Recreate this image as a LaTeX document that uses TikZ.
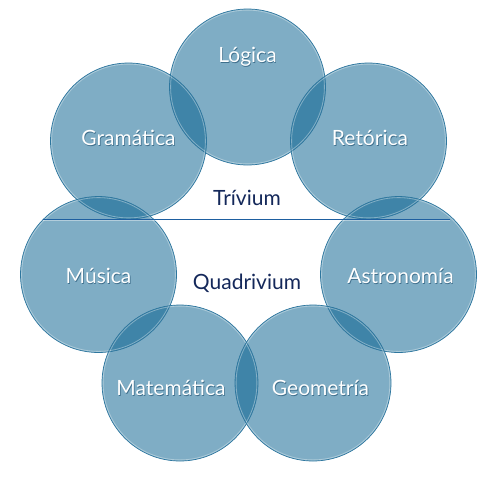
\documentclass[tikz,border=0pt]{standalone}
\usepackage{fontspec}
\setmainfont{Lato}
\definecolor{circfill}{RGB}{0,92,139}
\definecolor{circedge}{RGB}{45,118,158}
\definecolor{navy}{RGB}{20,40,90}
\definecolor{linecol}{RGB}{30,95,160}
\definecolor{shadowc}{RGB}{10,60,95}
\begin{document}
\begin{tikzpicture}[x=1pt,y=-1pt,
  circ/.style={circle,minimum size=156pt,inner sep=0pt,fill=circfill,fill opacity=0.5,draw=none},
  circedgestyle/.style={circle,minimum size=156pt,inner sep=0pt,draw=circedge,line width=0.7pt},
  circhl/.style={circle,minimum size=153.8pt,inner sep=0pt,draw=white,draw opacity=0.35,line width=0.8pt},
  lbl/.style={text=white,font=\fontsize{21}{24}\selectfont,inner sep=0pt},
  lblsh/.style={text=shadowc,text opacity=0.55,font=\fontsize{21}{24}\selectfont,inner sep=0pt},
  grp/.style={text=navy,font=\fontsize{21}{24}\selectfont,inner sep=0pt}]
\useasboundingbox (0,0) rectangle (495,480);
% circles
\foreach \n/\x/\y in {logica/247.5/87, gram/128.5/141, reto/368.5/141, musica/98.5/274.5, astro/398.5/274.5, mate/180/383, geo/313/383}{
  \node[circ] (\n) at (\x,\y) {};
}
\foreach \n/\x/\y in {logicaE/247.5/87, gramE/128.5/141, retoE/368.5/141, musicaE/98.5/274.5, astroE/398.5/274.5, mateE/180/383, geoE/313/383}{
  \node[circedgestyle] (\n) at (\x,\y) {};
  \node[circhl] at (\x,\y) {};
}
% divider
\coordinate (l1) at (43,219);
\coordinate (l2) at (450,219);
\coordinate (l1b) at (43,220.6);
\coordinate (l2b) at (450,220.6);
\draw[white,opacity=0.4,line width=0.8pt] (l1b) -- (l2b);
\draw[linecol,line width=1pt] (l1) -- (l2);
% labels
\foreach \n/\x/\y/\t in {tl/247.5/57/Lógica, tg/128.5/138/Gramática, tr/370/138/Retórica, tm/98.5/276/Música, ta/400.5/276/Astronomía, tma/171/388/Matemática, tge/320.5/388/Geometría}{
  \node[lblsh] at (\x+0.7,\y+0.7) {\t};
  \node[lbl] (\n) at (\x,\y) {\t};
}
\node[grp] (triv) at (247,198) {Trívium};
\node[grp] (quad) at (247,283) {Quadrivium};
\end{tikzpicture}
\end{document}
